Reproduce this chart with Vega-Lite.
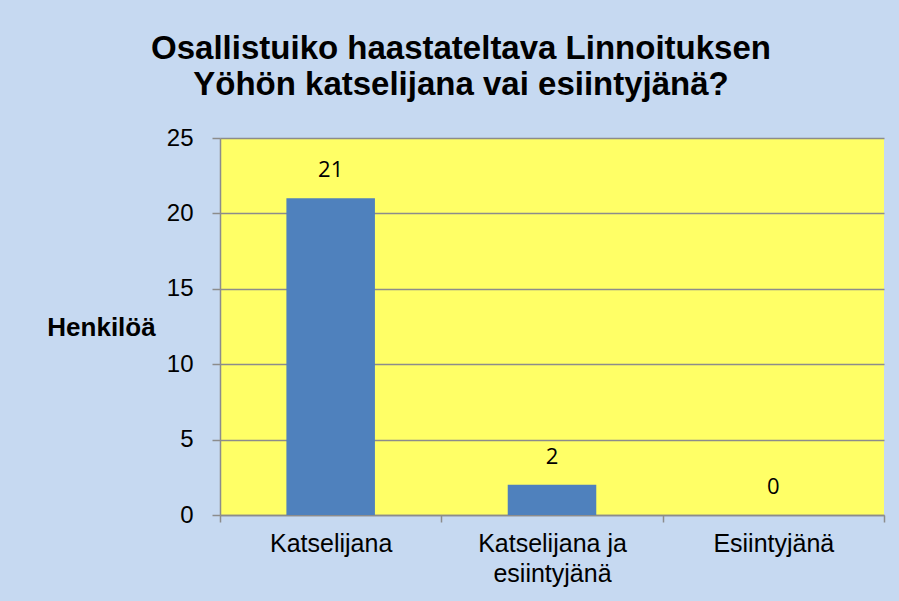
{
  "$schema": "https://vega.github.io/schema/vega-lite/v6.json",
  "width": 664,
  "height": 377,
  "autosize": {"type": "none"},
  "padding": {"left": 220, "top": 138, "right": 15, "bottom": 86},
  "background": "#C6D9F1",
  "title": {
    "text": ["Osallistuiko haastateltava Linnoituksen", "Yöhön katselijana vai esiintyjänä?"],
    "font": "Liberation Sans",
    "fontSize": 33,
    "fontWeight": "bold",
    "color": "#000000",
    "lineHeight": 36,
    "anchor": "middle",
    "dx": -91,
    "offset": 24
  },
  "data": {
    "values": [
      {"kategoria": "Katselijana", "henkiloa": 21},
      {"kategoria": "Katselijana ja esiintyjänä", "henkiloa": 2},
      {"kategoria": "Esiintyjänä", "henkiloa": 0}
    ]
  },
  "config": {
    "view": {"fill": "#FFFF66", "stroke": null},
    "axis": {"labelFont": "Liberation Sans", "labelColor": "#000000", "domainColor": "#8C8C8C", "tickColor": "#8C8C8C", "gridColor": "#8C8C8C", "gridWidth": 1.5, "domainWidth": 1.5, "tickWidth": 1.5}
  },
  "encoding": {
    "x": {
      "field": "kategoria",
      "type": "nominal",
      "sort": null,
      "scale": {"paddingInner": 0, "paddingOuter": 0},
      "axis": {
        "title": null,
        "labelAngle": 0,
        "labelFontSize": 25,
        "labelPadding": 9,
        "labelBaseline": "top",
        "labelLineHeight": 30,
        "tickBand": "extent",
        "tickSize": 7,
        "labelExpr": "datum.value == 'Katselijana ja esiintyjänä' ? ['Katselijana ja', 'esiintyjänä'] : datum.value"
      }
    },
    "y": {
      "field": "henkiloa",
      "type": "quantitative",
      "scale": {"domain": [0, 25]},
      "axis": {
        "values": [0, 5, 10, 15, 20, 25],
        "grid": true,
        "tickSize": 8,
        "labelFontSize": 24,
        "labelPadding": 19,
        "title": "Henkilöä",
        "titleFont": "Liberation Sans",
        "titleFontSize": 26,
        "titleFontWeight": "bold",
        "titleColor": "#000000",
        "titleAngle": 0,
        "titleAlign": "center",
        "titleBaseline": "middle",
        "titleX": -119,
        "titleY": 189
      }
    }
  },
  "layer": [
    {"mark": {"type": "bar", "color": "#4F81BD", "width": {"band": 0.4}}},
    {
      "mark": {"type": "text", "dy": -28, "fontSize": 22, "font": "Open Sans", "color": "#000000", "baseline": "middle"},
      "encoding": {"text": {"field": "henkiloa", "type": "quantitative"}}
    }
  ]
}
